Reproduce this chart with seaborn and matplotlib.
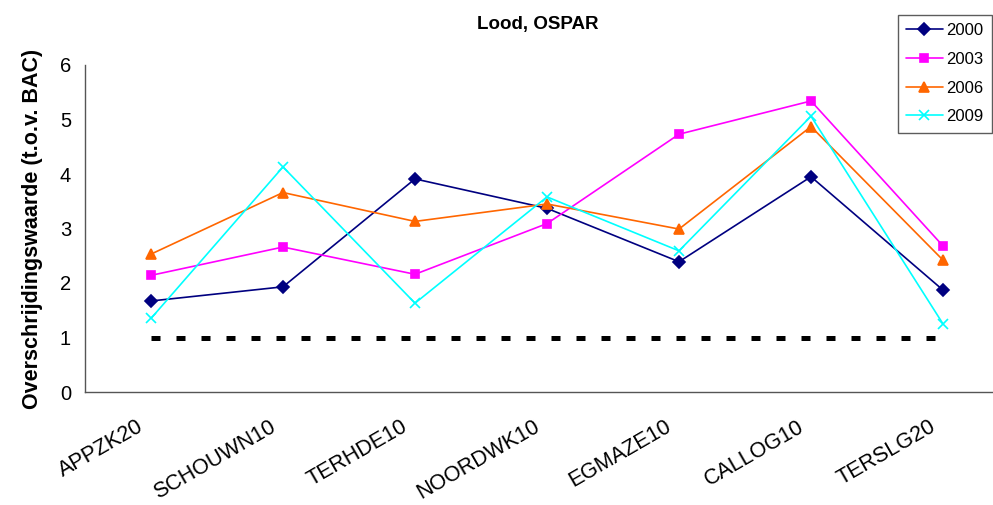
import matplotlib
matplotlib.use("Agg")
import matplotlib.pyplot as plt
import seaborn as sns
import pandas as pd

sites = ["APPZK20", "SCHOUWN10", "TERHDE10", "NOORDWK10", "EGMAZE10", "CALLOG10", "TERSLG20"]
y2000 = [1.67, 1.93, 3.91, 3.37, 2.39, 3.95, 1.87]
y2003 = [2.14, 2.66, 2.16, 3.09, 4.73, 5.34, 2.68]
y2006 = [2.53, 3.66, 3.13, 3.45, 2.99, 4.87, 2.42]
y2009 = [1.35, 4.13, 1.63, 3.58, 2.59, 5.06, 1.25]
years = ["2000", "2003", "2006", "2009"]
bac = [1.0] * len(sites)
title = "Lood, OSPAR"
ylabel = "Overschrijdingswaarde (t.o.v. BAC)"

series = [y2000, y2003, y2006, y2009]
pos = list(range(len(sites)))

sns.set_style("white")
plt.rcParams["font.family"] = ["Liberation Sans", "DejaVu Sans"]
plt.rcParams["text.color"] = "black"
plt.rcParams["axes.labelcolor"] = "black"
plt.rcParams["xtick.color"] = "black"
plt.rcParams["ytick.color"] = "black"

fig = plt.figure(figsize=(9.93, 5.05), dpi=100)
W, H = 993, 505
x0, x1, ytop, ybot = 85, 1009, 65, 392
ax = fig.add_axes([x0 / W, (H - ybot) / H, (x1 - x0) / W, (ybot - ytop) / H])

colors = ["#000080", "#FF00FF", "#FF6600", "#00FFFF"]
mk = ["D", "s", "^", "x"]
msz = [6.5, 6, 7.5, 7]

# BAC reference line
ax.plot(pos, bac, color="black", lw=3.6, dashes=(1.8, 3.2), solid_capstyle="butt",
        dash_capstyle="butt", zorder=1)

for yr, vals, c, m, s in zip(years, series, colors, mk, msz):
    d = pd.DataFrame({"pos": pos, "value": vals})
    sns.lineplot(data=d, x="pos", y="value", color=c, marker=m, markersize=s,
                 markeredgewidth=1.2, markeredgecolor=c, linewidth=1.2, sort=False,
                 ax=ax, label=yr, zorder=3)

ax.set_xlim(-0.5, len(sites) - 0.5)
ax.set_ylim(0, 6)
ax.set_yticks(range(0, 7))
# label anchors sit slightly left of each category centre (as in the original)
label_offset = -0.068
ax.set_xticks([p + label_offset for p in pos])
ax.set_xticklabels(sites, rotation=30, ha="right", va="center", rotation_mode="anchor",
                   fontsize=15.5)
ax.set_xticks([p - 0.5 for p in pos] + [len(sites) - 0.5], minor=True)
ax.tick_params(axis="x", which="major", length=0, pad=24)
ax.tick_params(axis="x", which="minor", length=6, width=1, color="#333333", direction="out")
ax.tick_params(axis="y", length=5, width=1, color="#333333", direction="out", labelsize=14.5, pad=5)
for side in ["top", "right"]:
    ax.spines[side].set_visible(False)
for side in ["left", "bottom"]:
    ax.spines[side].set_color("#555555")
    ax.spines[side].set_linewidth(1)

ax.set_xlabel("")
ax.set_ylabel(ylabel, fontsize=15.5, fontweight="bold", labelpad=12)
fig.text(538 / W, 1 - 25 / H, title, ha="center", va="center", fontsize=13.5, fontweight="bold")

handles, labels = ax.get_legend_handles_labels()
if ax.get_legend() is not None:
    ax.get_legend().remove()
leg = fig.legend(handles, labels, loc="upper right", bbox_to_anchor=(992 / W, 1 - 15 / H),
                 frameon=True, fancybox=False, fontsize=12, handlelength=2.2,
                 handletextpad=0.22, labelspacing=0.82, borderpad=0.5, borderaxespad=0)
leg.get_frame().set_edgecolor("#333333")
leg.get_frame().set_linewidth(1)

fig.savefig("out.png", dpi=100)
